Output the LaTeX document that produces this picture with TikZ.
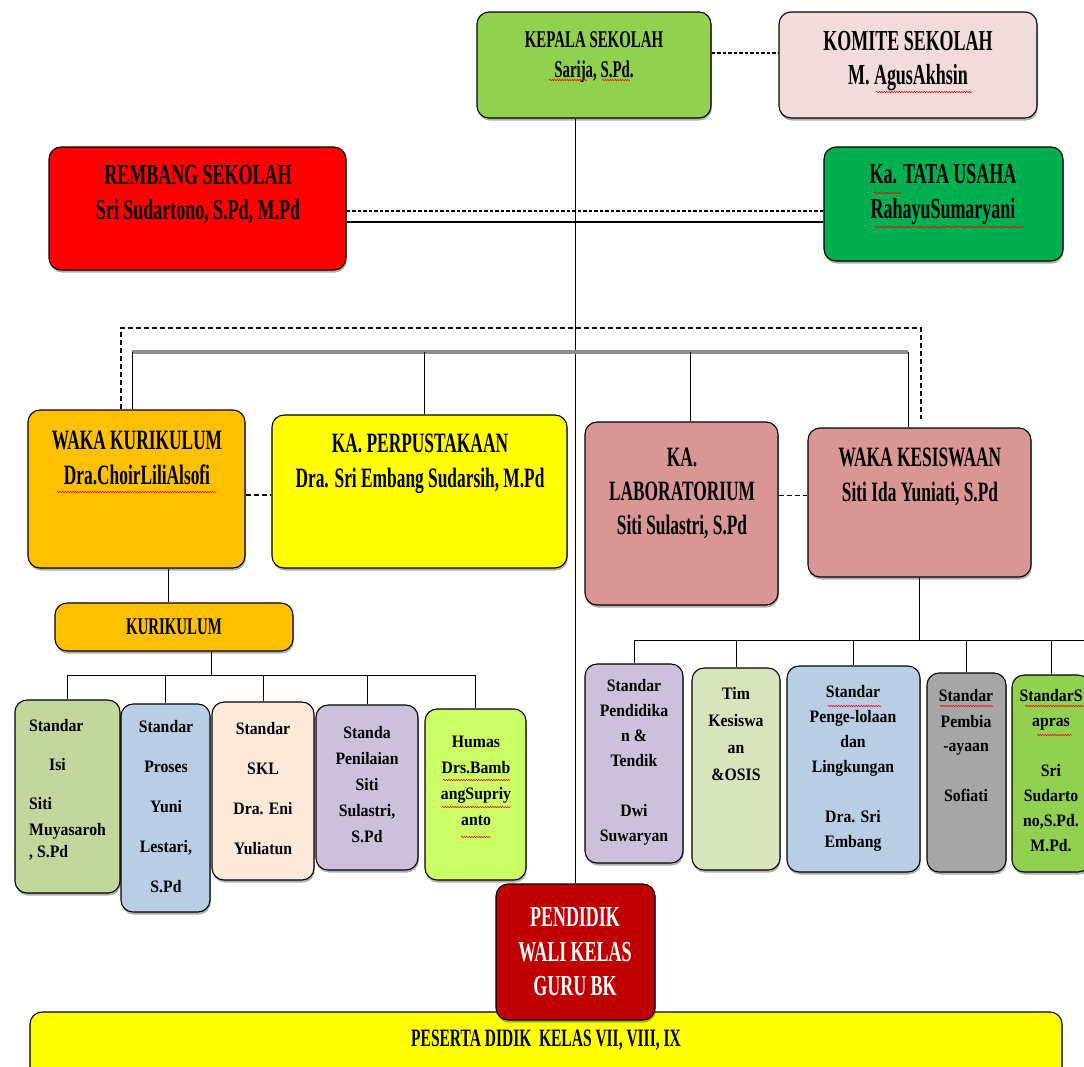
\documentclass[tikz,border=0pt]{standalone}
\usepackage{fontspec}
\setmainfont[FakeStretch=0.62]{Liberation Serif}
\newfontfamily\stdfont[FakeStretch=0.9]{Liberation Serif}
\usetikzlibrary{fit,shadows,decorations.pathmorphing}

\definecolor{cGreen}{HTML}{92D050}
\definecolor{cPink}{HTML}{F2DCDB}
\definecolor{cRed}{HTML}{FF0000}
\definecolor{cDkGreen}{HTML}{00B050}
\definecolor{cOrange}{HTML}{FFC000}
\definecolor{cYellow}{HTML}{FFFF00}
\definecolor{cRose}{HTML}{D99694}
\definecolor{cOlive}{HTML}{C3D69B}
\definecolor{cBlue}{HTML}{B9CDE5}
\definecolor{cPeach}{HTML}{FDE9D9}
\definecolor{cLilac}{HTML}{CCC1DA}
\definecolor{cLime}{HTML}{CCFF66}
\definecolor{cDkRed}{HTML}{C00000}
\definecolor{cSage}{HTML}{D7E4BC}
\definecolor{cGray}{HTML}{A6A6A6}

\tikzset{
  box/.style={draw=black, line width=1.1pt, rounded corners=12pt, inner sep=0pt,
    fit={#1}, drop shadow={shadow xshift=0.8pt, shadow yshift=-2.5pt, opacity=.45, fill=black!70}},
  hd/.style 2 args={font=\bfseries\fontsize{#1}{#2}\selectfont, align=center, inner sep=0pt},
  std/.style={font=\stdfont\bfseries\fontsize{17.5}{#1}\selectfont, align=center, inner sep=0pt},
  std/.default=25,
  link/.style={line width=1pt},
  linkdash/.style={line width=1.2pt, dash pattern=on 5pt off 3pt},
  tiedash/.style={line width=2pt, dash pattern=on 3.5pt off 2pt},
  spell/.style={red, line width=.5pt, decorate, decoration={snake, amplitude=.7pt, segment length=2.5pt}}
}

\begin{document}
\begin{tikzpicture}[x=1pt,y=-1pt]
\useasboundingbox (0,0) rectangle (1084,1066);
\clip (0,0) rectangle (1084,1066);

% pimpinan
\node[box={(477,12) (711,118)}, fill=cGreen] (kepala) {};
\node[hd={24}{30}] (kepala-t) at (594,57) {KEPALA SEKOLAH\\Sarija, S.Pd.};
\node[box={(779,12) (1037,118)}, fill=cPink] (komite) {};
\node[hd={29}{34}] (komite-t) at (908,61) {KOMITE SEKOLAH\\M. AgusAkhsin};
\node[box={(49,147) (346,270)}, fill=cRed] (rembang) {};
\node[hd={29}{35}] (rembang-t) at (198,195) {REMBANG SEKOLAH\\Sri Sudartono, S.Pd, M.Pd};
\node[box={(824,147) (1063,261)}, fill=cDkGreen] (tu) {};
\node[hd={29}{35}] (tu-t) at (943,195) {Ka. TATA USAHA\\RahayuSumaryani};

% wakil dan kepala unit
\node[box={(28,410) (245,568)}, fill=cOrange] (wakakur) {};
\node[hd={28}{35}] (wakakur-t) at (137,458) {WAKA KURIKULUM\\Dra.ChoirLiliAlsofi};
\node[box={(272,415) (567,568)}, fill=cYellow] (perpus) {};
\node[hd={28}{35}] (perpus-t) at (420,464) {KA. PERPUSTAKAAN\\Dra. Sri Embang Sudarsih, M.Pd};
\node[box={(585,422) (778,605)}, fill=cRose] (lab) {};
\node[hd={28}{34}] (lab-t) at (682,493) {KA.\\LABORATORIUM\\Siti Sulastri, S.Pd};
\node[box={(808,428) (1031,577)}, fill=cRose] (kesiswaan) {};
\node[hd={28}{35}] (kesiswaan-t) at (920,477) {WAKA KESISWAAN\\Siti Ida Yuniati, S.Pd};

% kurikulum
\node[box={(55,603) (293,651)}, fill=cOrange] (kurikulum) {};
\node[hd={24}{30}] (kurikulum-t) at (174,627) {KURIKULUM};
\node[box={(15,700) (120,893)}, fill=cOlive] (isi) {};
\node[std=24, align=left, anchor=west] (isi-t) at (29,790)
  {Standar\\[15pt]\hspace*{20pt}Isi\\[15pt]Siti\\[2pt]Muyasaroh\\[-2pt], S.Pd};
\node[box={(121,704) (210,912)}, fill=cBlue] (proses) {};
\node[std=40] (proses-t) at (166,807) {Standar\\Proses\\Yuni\\Lestari,\\S.Pd};
\node[box={(212,702) (314,880)}, fill=cPeach] (skl) {};
\node[std=40] (skl-t) at (263,789) {Standar\\SKL\\Dra. Eni\\Yuliatun};
\node[box={(316,705) (418,870)}, fill=cLilac] (penilaian) {};
\node[std=26] (penilaian-t) at (367,785) {Standa\\Penilaian\\Siti\\Sulastri,\\S.Pd};
\node[box={(425,709) (526,880)}, fill=cLime] (humas) {};
\node[std=26] (humas-t) at (476,781) {Humas\\Drs.Bamb\\angSupriy\\anto};

% kesiswaan
\node[box={(585,664) (683,863)}, fill=cLilac] (tendik) {};
\node[std] (tendik-t) at (634,762) {Standar\\Pendidika\\n \&\\Tendik\\[25pt]Dwi\\Suwaryan};
\node[box={(692,668) (780,870)}, fill=cSage] (osis) {};
\node[std=27] (osis-t) at (736,734) {Tim\\Kesiswa\\an\\\&OSIS};
\node[box={(787,666) (920,872)}, fill=cBlue] (kelola) {};
\node[std] (kelola-t) at (853,768) {Standar\\Penge-lolaan\\dan\\Lingkungan\\[25pt]Dra. Sri\\Embang};
\node[box={(927,673) (1006,872)}, fill=cGray] (biaya) {};
\node[std] (biaya-t) at (966,746) {Standar\\Pembia\\-ayaan\\[25pt]Sofiati};
\node[box={(1012,675) (1090,872)}, fill=cGreen] (sapras) {};
\node[std] (sapras-t) at (1051,771) {StandarS\\apras\\[25pt]Sri\\Sudarto\\no,S.Pd.\\M.Pd.};

% pendidik dan peserta didik
\node[box={(30,1012) (1062,1090)}, fill=cYellow] (peserta) {};
\node[hd={25}{30}] (peserta-t) at (546,1040) {PESERTA DIDIK\ \ KELAS VII, VIII, IX};
\node[box={(496,884) (655,1020)}, fill=cDkRed] (pendidik) {};
\node[hd={29}{34.5}, text=white] (pendidik-t) at (575,952) {PENDIDIK\\WALI KELAS\\GURU BK};

% garis komando
\draw[link] (kepala.south -| pendidik.north) -- (pendidik.north);
\draw[tiedash] ([yshift=12pt]kepala.east) -- ([yshift=12pt]komite.west);
\coordinate (rt1) at ([yshift=-2.5pt]rembang.east);
\coordinate (rt2) at ([yshift=-13.5pt]rembang.east);
\draw[tiedash] (rt1) -- (rt1 -| tu.west);
\draw[link, line width=1.5pt] (rt2) -- (rt2 -| tu.west);

% garis ke wakil
\coordinate (bL) at (132,352);
\coordinate (bR) at (908,352);
\coordinate (dL) at (121,328);
\coordinate (dR) at (921,328);
\draw[linkdash] (dL |- wakakur.north) -- (dL) -- (dR) -- ([yshift=8pt]dR |- kesiswaan.north);
\draw[line width=4pt, black!45] (bL) -- (bR);
\draw[link] (bL) -- (bL |- wakakur.north);
\draw[link] ([xshift=4.5pt]perpus.north |- bL) -- ([xshift=4.5pt]perpus.north);
\draw[link] ([xshift=8.5pt]lab.north |- bL) -- ([xshift=8.5pt]lab.north);
\draw[link] (bR) -- (bR |- kesiswaan.north);
\draw[linkdash] ([yshift=-6pt]wakakur.east) -- ([yshift=-6pt]wakakur.east -| perpus.west);
\draw[linkdash] ([yshift=7pt]kesiswaan.west -| lab.east) -- ([yshift=7pt]kesiswaan.west);

% cabang kurikulum
\coordinate (kbus) at (0,675);
\draw[link] ([xshift=-6pt]kurikulum.north |- wakakur.south) -- ([xshift=-6pt]kurikulum.north);
\draw[link] ([xshift=37pt]kurikulum.south) -- ([xshift=37pt]kurikulum.south |- kbus);
\draw[link] (isi.north |- kbus) -- (humas.north |- kbus);
\draw[link] (isi.north |- kbus) -- (isi.north);
\draw[link] (proses.north |- kbus) -- (proses.north);
\draw[link] (skl.north |- kbus) -- (skl.north);
\draw[link] (penilaian.north |- kbus) -- (penilaian.north);
\draw[link] (humas.north |- kbus) -- (humas.north);

% cabang kesiswaan
\coordinate (sbus) at (0,640);
\draw[link] (kesiswaan.south) -- (kesiswaan.south |- sbus);
\draw[link] (tendik.north |- sbus) -- (sapras.north east |- sbus);
\draw[link] (tendik.north |- sbus) -- (tendik.north);
\draw[link] (osis.north |- sbus) -- (osis.north);
\draw[link] (kelola.north |- sbus) -- (kelola.north);
\draw[link] (biaya.north |- sbus) -- (biaya.north);
\draw[link] (sapras.north |- sbus) -- (sapras.north);

% garis ejaan
\draw[spell] (549,80) -- (587,80);
\draw[spell] (602,80) -- (630,80);
\draw[spell] (876,92) -- (972,92);
\draw[spell] (874,193) -- (901,193);
\draw[spell] (874,227) -- (1024,227);
\draw[spell] (57,492) -- (216,492);
\draw[spell] (443,780) -- (510,780);
\draw[spell] (442,807) -- (511,807);
\draw[spell] (461,837) -- (491,837);
\draw[spell] (828,706) -- (881,706);
\draw[spell] (940,706) -- (993,706);
\draw[spell] (1025,706) -- (1084,706);
\draw[spell] (1037,735) -- (1072,735);
\end{tikzpicture}
\end{document}
